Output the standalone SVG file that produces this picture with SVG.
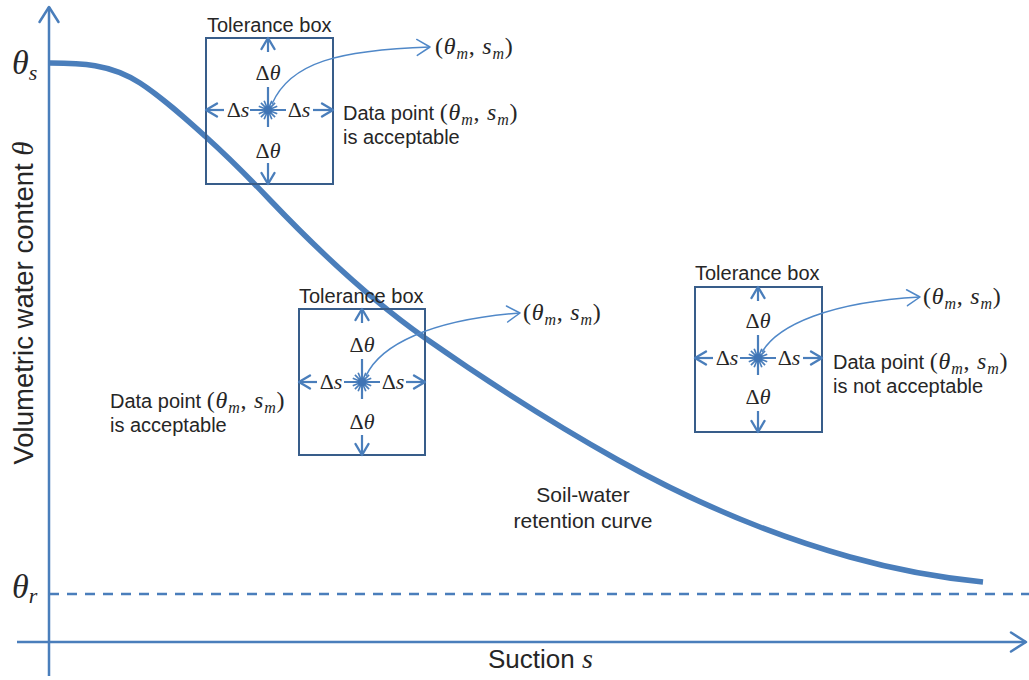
<svg xmlns="http://www.w3.org/2000/svg" xmlns:xlink="http://www.w3.org/1999/xlink" width="1029" height="680" viewBox="0 0 1029 680">
<style>
.ax{stroke:#4a7ebb;stroke-width:2.5;fill:none}
.curve{stroke:#4a7ebb;stroke-width:5.5;fill:none;stroke-linecap:butt}
.dash{stroke:#4a7ebb;stroke-width:2.5;stroke-dasharray:10 8;fill:none}
.box{fill:none;stroke:#385d8a;stroke-width:2}
.arr{stroke:#4a7ebb;stroke-width:2.2;fill:none}
.cv{stroke:#5088c8;stroke-width:1.5;fill:none}
.t{font-family:"Liberation Sans",Arial,sans-serif;font-size:20px;fill:#262626}
.m{font-family:"Liberation Serif","Times New Roman",serif;font-size:24px;fill:#262626}
.d{font-family:"Liberation Serif","Times New Roman",serif;font-size:22px;fill:#262626;text-anchor:middle}
.i{font-style:italic}
.sub{font-size:16px;font-style:italic}
</style>
<defs>
<marker id="mAx" markerUnits="userSpaceOnUse" refX="0" refY="0" orient="auto" overflow="visible"><path d="M-15,-9.5 L0,0 L-15,9.5" fill="none" stroke="#4a7ebb" stroke-width="2.5" stroke-linejoin="round" stroke-linecap="round"/></marker>
<marker id="mAr" markerUnits="userSpaceOnUse" refX="0" refY="0" orient="auto" overflow="visible"><path d="M-11,-6.5 L0,0 L-11,6.5" fill="none" stroke="#4a7ebb" stroke-width="2.4" stroke-linejoin="round" stroke-linecap="round"/></marker>
<marker id="mCv" markerUnits="userSpaceOnUse" refX="0" refY="0" orient="auto" overflow="visible"><path d="M-13,-8 L0,0 L-13,8" fill="none" stroke="#5088c8" stroke-width="1.5" stroke-linejoin="round" stroke-linecap="round"/></marker>
<g id="star"><path d="M-10,0 L10,0 M-9.24,-3.83 L9.24,3.83 M-7.07,-7.07 L7.07,7.07 M-3.83,-9.24 L3.83,9.24 M0,-10 L0,10 M3.83,-9.24 L-3.83,9.24 M7.07,-7.07 L-7.07,7.07 M9.24,-3.83 L-9.24,3.83" stroke="#4a7ebb" stroke-width="1.7" fill="none"/><circle r="4" fill="#3f74b5"/></g>
</defs>

<g id="axes">
<line class="ax" x1="49" y1="676" x2="49" y2="7" marker-end="url(#mAx)"/>
<line class="ax" x1="17" y1="642" x2="1026" y2="642" marker-end="url(#mAx)"/>
<line class="dash" x1="49" y1="594" x2="1029" y2="594"/>
<text class="m" x="12" y="74" style="font-size:34px"><tspan class="i">θ</tspan><tspan class="i" style="font-size:22px" dy="6">s</tspan></text>
<text class="m" x="12" y="598" style="font-size:34px"><tspan class="i">θ</tspan><tspan class="i" style="font-size:22px" dy="5">r</tspan></text>
<text class="t" style="font-size:27.5px" transform="translate(33,303) rotate(-90)" text-anchor="middle">Volumetric water content <tspan class="m i" style="font-size:29px">θ</tspan></text>
<text class="t" x="488" y="668" style="font-size:26px">Suction <tspan class="m i" style="font-size:28px">s</tspan></text>
</g>

<g id="curve">
<path class="curve" d="M50,63 C80,63 110,63.5 140,83 C162,97.3 184,117.2 206,137 C227.3,156.2 248.7,177.6 270,200 C321.7,254.25 373.3,301.8 425,338 C489.3,383 553.7,424 618,460 C695.3,503.3 772.7,535.3 850,557 C894.3,569.4 938.7,577.6 983,582"/>
<text class="t" style="font-size:21px" x="583" y="502" text-anchor="middle">Soil-water</text>
<text class="t" style="font-size:21px" x="583" y="528" text-anchor="middle">retention curve</text>
</g>

<g id="box1">
<rect class="box" x="206" y="38" width="127" height="146"/>
<text class="t" x="207" y="32">Tolerance box</text>
<line class="arr" x1="268" y1="52" x2="268" y2="38" marker-end="url(#mAr)"/>
<text class="d" x="268" y="80">Δ<tspan class="i">θ</tspan></text>
<line class="arr" x1="268" y1="87" x2="268" y2="127"/>
<text class="d" x="268" y="158">Δ<tspan class="i">θ</tspan></text>
<line class="arr" x1="268" y1="163" x2="268" y2="184" marker-end="url(#mAr)"/>
<line class="arr" x1="224" y1="110" x2="206" y2="110" marker-end="url(#mAr)"/>
<text class="d" x="238" y="117">Δ<tspan class="i">s</tspan></text>
<line class="arr" x1="250" y1="110" x2="286" y2="110"/>
<text class="d" x="299" y="117">Δ<tspan class="i">s</tspan></text>
<line class="arr" x1="313" y1="110" x2="333" y2="110" marker-end="url(#mAr)"/>
<use href="#star" xlink:href="#star" x="268" y="110"/>
<text class="m" x="435" y="54" letter-spacing="0.8">(<tspan class="i">θ</tspan><tspan class="sub" dy="5">m</tspan><tspan dy="-5">, </tspan><tspan class="i">s</tspan><tspan class="sub" dy="5">m</tspan><tspan dy="-5">)</tspan></text>
<text class="t" x="343" y="120">Data point <tspan class="m" letter-spacing="0.8">(<tspan class="i">θ</tspan><tspan class="sub" dy="5">m</tspan><tspan dy="-5">, </tspan><tspan class="i">s</tspan><tspan class="sub" dy="5">m</tspan><tspan dy="-5">)</tspan></tspan></text>
<text class="t" x="343" y="144">is acceptable</text>
</g>

<g id="box2">
<rect class="box" x="299" y="309" width="126" height="146"/>
<text class="t" x="299" y="303">Tolerance box</text>
<line class="arr" x1="362" y1="323" x2="362" y2="309" marker-end="url(#mAr)"/>
<text class="d" x="362" y="352">Δ<tspan class="i">θ</tspan></text>
<line class="arr" x1="362" y1="359" x2="362" y2="399"/>
<text class="d" x="362" y="429">Δ<tspan class="i">θ</tspan></text>
<line class="arr" x1="362" y1="435" x2="362" y2="455" marker-end="url(#mAr)"/>
<line class="arr" x1="317" y1="382" x2="299" y2="382" marker-end="url(#mAr)"/>
<text class="d" x="331" y="389">Δ<tspan class="i">s</tspan></text>
<line class="arr" x1="344" y1="382" x2="380" y2="382"/>
<text class="d" x="393" y="389">Δ<tspan class="i">s</tspan></text>
<line class="arr" x1="406" y1="382" x2="425" y2="382" marker-end="url(#mAr)"/>
<use href="#star" xlink:href="#star" x="362" y="382"/>
<text class="m" x="523" y="320" letter-spacing="0.8">(<tspan class="i">θ</tspan><tspan class="sub" dy="5">m</tspan><tspan dy="-5">, </tspan><tspan class="i">s</tspan><tspan class="sub" dy="5">m</tspan><tspan dy="-5">)</tspan></text>
<text class="t" x="110" y="408">Data point <tspan class="m" letter-spacing="0.8">(<tspan class="i">θ</tspan><tspan class="sub" dy="5">m</tspan><tspan dy="-5">, </tspan><tspan class="i">s</tspan><tspan class="sub" dy="5">m</tspan><tspan dy="-5">)</tspan></tspan></text>
<text class="t" x="110" y="432">is acceptable</text>
</g>

<g id="box3">
<rect class="box" x="695" y="287" width="127" height="145"/>
<text class="t" x="695" y="280">Tolerance box</text>
<line class="arr" x1="758" y1="301" x2="758" y2="287" marker-end="url(#mAr)"/>
<text class="d" x="758" y="328">Δ<tspan class="i">θ</tspan></text>
<line class="arr" x1="758" y1="335" x2="758" y2="375"/>
<text class="d" x="758" y="404">Δ<tspan class="i">θ</tspan></text>
<line class="arr" x1="758" y1="411" x2="758" y2="432" marker-end="url(#mAr)"/>
<line class="arr" x1="713" y1="358" x2="695" y2="358" marker-end="url(#mAr)"/>
<text class="d" x="727" y="365">Δ<tspan class="i">s</tspan></text>
<line class="arr" x1="740" y1="358" x2="776" y2="358"/>
<text class="d" x="789" y="365">Δ<tspan class="i">s</tspan></text>
<line class="arr" x1="803" y1="358" x2="822" y2="358" marker-end="url(#mAr)"/>
<use href="#star" xlink:href="#star" x="758" y="358"/>
<text class="m" x="923" y="304" letter-spacing="0.8">(<tspan class="i">θ</tspan><tspan class="sub" dy="5">m</tspan><tspan dy="-5">, </tspan><tspan class="i">s</tspan><tspan class="sub" dy="5">m</tspan><tspan dy="-5">)</tspan></text>
<text class="t" x="833" y="369">Data point <tspan class="m" letter-spacing="0.8">(<tspan class="i">θ</tspan><tspan class="sub" dy="5">m</tspan><tspan dy="-5">, </tspan><tspan class="i">s</tspan><tspan class="sub" dy="5">m</tspan><tspan dy="-5">)</tspan></tspan></text>
<text class="t" x="833" y="393">is not acceptable</text>
</g>

<g id="connectors">
<path class="cv" d="M272,104 C290,62 340,50 430,47" marker-end="url(#mCv)"/>
<path class="cv" d="M366,376 C380,345 430,320 520,313" marker-end="url(#mCv)"/>
<path class="cv" d="M762,352 C778,325 830,302 920,297" marker-end="url(#mCv)"/>
</g>
</svg>
